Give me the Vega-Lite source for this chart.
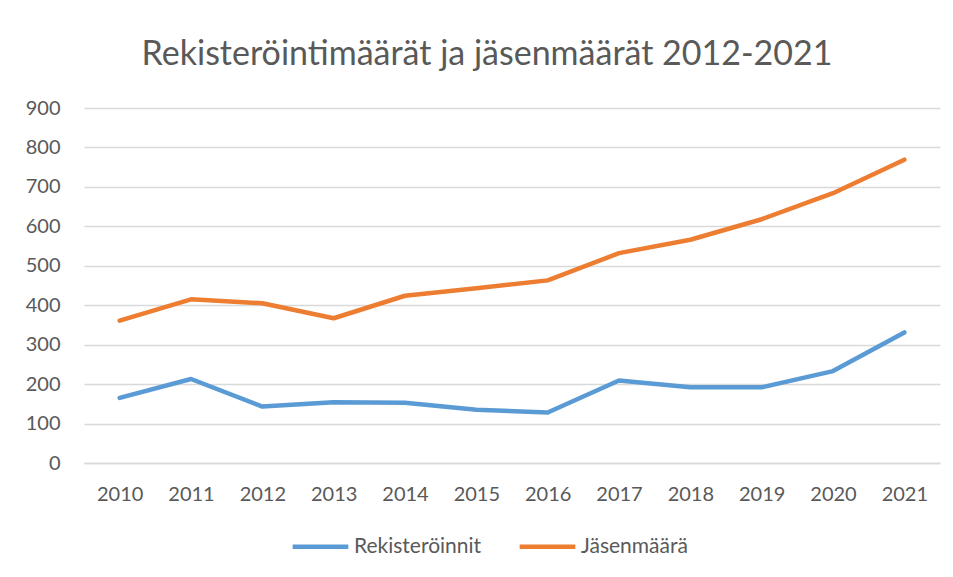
{
  "$schema": "https://vega.github.io/schema/vega-lite/v6.json",
  "width": 856,
  "height": 355,
  "autosize": {"type": "none"},
  "padding": {"left": 84, "top": 108, "right": 13, "bottom": 114},
  "background": "white",
  "title": {
    "text": "Rekisteröintimäärät ja jäsenmäärät 2012-2021",
    "font": "Lato",
    "fontSize": 34,
    "fontWeight": "normal",
    "color": "#595959",
    "anchor": "middle",
    "frame": "group",
    "dx": -25,
    "offset": 26
  },
  "data": {
    "values": [
      {"vuosi": "2010", "sarja": "Rekisteröinnit", "arvo": 165},
      {"vuosi": "2011", "sarja": "Rekisteröinnit", "arvo": 213},
      {"vuosi": "2012", "sarja": "Rekisteröinnit", "arvo": 143},
      {"vuosi": "2013", "sarja": "Rekisteröinnit", "arvo": 154},
      {"vuosi": "2014", "sarja": "Rekisteröinnit", "arvo": 153},
      {"vuosi": "2015", "sarja": "Rekisteröinnit", "arvo": 135},
      {"vuosi": "2016", "sarja": "Rekisteröinnit", "arvo": 128},
      {"vuosi": "2017", "sarja": "Rekisteröinnit", "arvo": 209},
      {"vuosi": "2018", "sarja": "Rekisteröinnit", "arvo": 192},
      {"vuosi": "2019", "sarja": "Rekisteröinnit", "arvo": 192},
      {"vuosi": "2020", "sarja": "Rekisteröinnit", "arvo": 233},
      {"vuosi": "2021", "sarja": "Rekisteröinnit", "arvo": 331},
      {"vuosi": "2010", "sarja": "Jäsenmäärä", "arvo": 361},
      {"vuosi": "2011", "sarja": "Jäsenmäärä", "arvo": 415},
      {"vuosi": "2012", "sarja": "Jäsenmäärä", "arvo": 405},
      {"vuosi": "2013", "sarja": "Jäsenmäärä", "arvo": 367},
      {"vuosi": "2014", "sarja": "Jäsenmäärä", "arvo": 424},
      {"vuosi": "2015", "sarja": "Jäsenmäärä", "arvo": 443},
      {"vuosi": "2016", "sarja": "Jäsenmäärä", "arvo": 463},
      {"vuosi": "2017", "sarja": "Jäsenmäärä", "arvo": 532},
      {"vuosi": "2018", "sarja": "Jäsenmäärä", "arvo": 566},
      {"vuosi": "2019", "sarja": "Jäsenmäärä", "arvo": 618},
      {"vuosi": "2020", "sarja": "Jäsenmäärä", "arvo": 684},
      {"vuosi": "2021", "sarja": "Jäsenmäärä", "arvo": 769}
    ]
  },
  "mark": {"type": "line", "strokeWidth": 4.5, "strokeCap": "round", "strokeJoin": "round"},
  "encoding": {
    "x": {
      "field": "vuosi",
      "type": "ordinal",
      "scale": {"type": "point", "padding": 0.5},
      "axis": {
        "title": null,
        "labelAngle": 0,
        "labelFont": "Lato",
        "labelFontSize": 20,
        "labelColor": "#595959",
        "labelPadding": 21,
        "ticks": false,
        "domain": true,
        "domainColor": "#d9d9d9",
        "domainWidth": 1.5,
        "grid": false
      }
    },
    "y": {
      "field": "arvo",
      "type": "quantitative",
      "scale": {"domain": [0, 900], "nice": false},
      "axis": {
        "title": null,
        "values": [0, 100, 200, 300, 400, 500, 600, 700, 800, 900],
        "labelFont": "Lato",
        "labelFontSize": 20,
        "labelColor": "#595959",
        "labelPadding": 24,
        "ticks": false,
        "domain": false,
        "grid": true,
        "gridColor": "#d9d9d9",
        "gridWidth": 1.5
      }
    },
    "color": {
      "field": "sarja",
      "type": "nominal",
      "sort": ["Rekisteröinnit", "Jäsenmäärä"],
      "scale": {"domain": ["Rekisteröinnit", "Jäsenmäärä"], "range": ["#5B9BD5", "#ED7D31"]},
      "legend": {
        "title": null,
        "orient": "none",
        "direction": "horizontal",
        "legendX": 206,
        "legendY": 408,
        "symbolType": "stroke",
        "symbolSize": 3100,
        "symbolStrokeWidth": 4.5,
        "labelFont": "Lato",
        "labelFontSize": 21,
        "labelColor": "#595959",
        "labelOffset": 3,
        "columnPadding": 28
      }
    }
  },
  "config": {
    "view": {"stroke": null}
  }
}
